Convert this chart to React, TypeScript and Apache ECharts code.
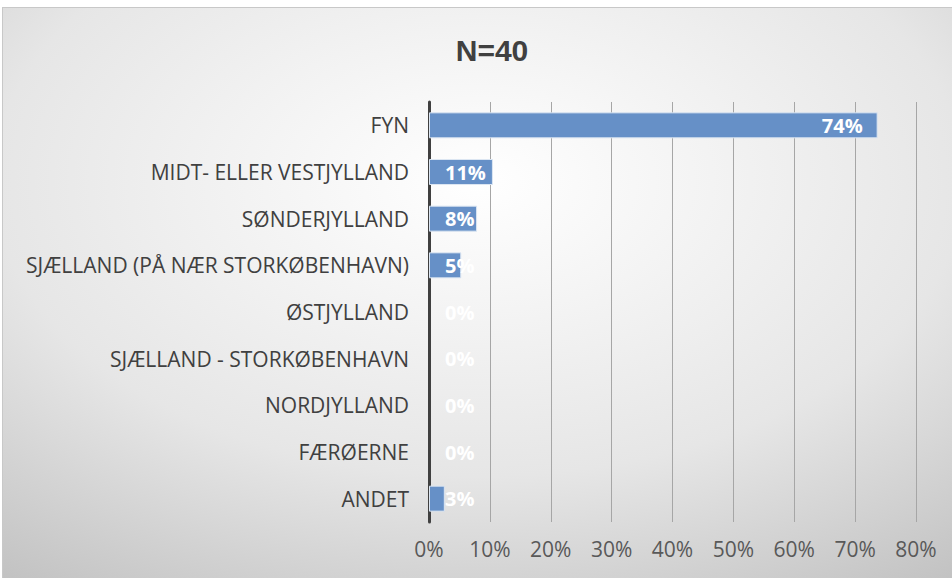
import React, { useEffect, useRef } from "react";
import * as echarts from "echarts";

const categories = [
  "FYN",
  "MIDT- ELLER VESTJYLLAND",
  "SØNDERJYLLAND",
  "SJÆLLAND (PÅ NÆR STORKØBENHAVN)",
  "ØSTJYLLAND",
  "SJÆLLAND - STORKØBENHAVN",
  "NORDJYLLAND",
  "FÆRØERNE",
  "ANDET",
];
const values = [73.7, 10.5, 7.9, 5.3, 0, 0, 0, 0, 2.6];
const title = "N=40";

export default function App() {
  const ref = useRef<HTMLDivElement>(null);
  useEffect(() => {
    if (!ref.current) return;
    const chart = echarts.init(ref.current, null, { renderer: "svg" });
    const cats = [...categories].reverse();
    const vals = [...values].reverse();
    chart.setOption({
      animation: false,
      backgroundColor: {
        type: "radial",
        x: 0.5,
        y: 0.3,
        r: 0.85,
        colorStops: [
          { offset: 0, color: "#ffffff" },
          { offset: 0.6, color: "#e6e6e6" },
          { offset: 1, color: "#c2c2c2" },
        ],
      },
      title: {
        text: title,
        left: 484,
        top: 22,
        textAlign: "center",
        textStyle: {
          fontFamily: "'Liberation Sans Narrow', 'Liberation Sans', sans-serif",
          fontSize: 30,
          fontWeight: "bold",
          color: "#404040",
        },
      },
      grid: { left: 426, right: 39, top: 94, bottom: 64, containLabel: false },
      xAxis: {
        type: "value",
        min: 0,
        max: 80,
        interval: 10,
        axisLine: { show: false },
        axisTick: { show: false },
        splitLine: { show: true, lineStyle: { color: "#a6a6a6", width: 1 } },
        axisLabel: {
          formatter: "{value}%",
          color: "#595959",
          fontFamily: "'Open Sans', sans-serif",
          fontSize: 21,
          margin: 16,
        },
      },
      yAxis: {
        type: "category",
        data: cats,
        axisLine: { show: true, lineStyle: { color: "#404040", width: 3 } },
        axisTick: { show: false },
        axisLabel: {
          color: "#404040",
          fontFamily: "'Open Sans', sans-serif",
          fontSize: 21,
          margin: 20,
        },
      },
      series: [
        {
          type: "bar",
          barWidth: 26,
          data: vals.map((v) => ({
            value: v,
            itemStyle: v === 0 ? { borderWidth: 0, color: "transparent" } : undefined,
            label:
              v > 40
                ? { position: "insideRight", distance: 15 }
                : { position: [16, "50%"], align: "left", verticalAlign: "middle" },
          })),
          itemStyle: { color: "#6690c7", borderColor: "#dce6f2", borderWidth: 1 },
          label: {
            show: true,
            color: "#ffffff",
            fontFamily: "'Open Sans', sans-serif",
            fontWeight: "bold",
            fontSize: 20,
            formatter: (p: any) => Math.round(p.value) + "%",
          },
        },
      ],
    });
    return () => chart.dispose();
  }, []);
  return (
    <div style={{ position: "fixed", left: 0, top: 0, width: 952, height: 578, overflow: "hidden", background: "#fff" }}>
      <div
        style={{
          position: "absolute",
          left: 2,
          top: 7,
          width: 960,
          height: 590,
          border: "1px solid #c8c8c8",
        }}
      >
        <div ref={ref} style={{ width: 952, height: 578 }} />
      </div>
    </div>
  );
}
